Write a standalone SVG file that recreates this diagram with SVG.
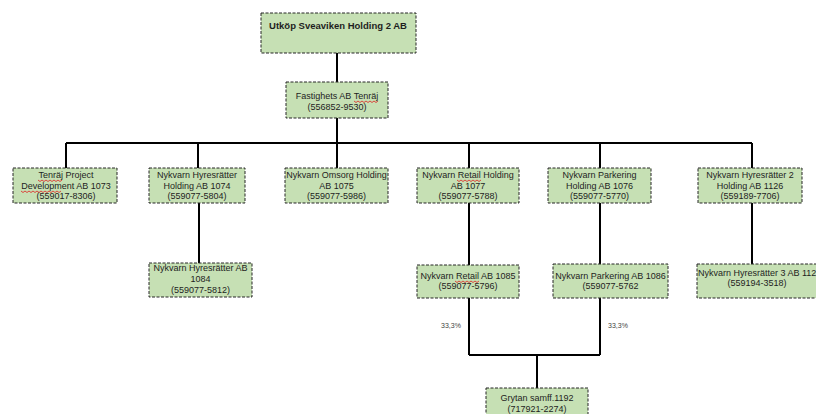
<svg xmlns="http://www.w3.org/2000/svg" width="816" height="414" viewBox="0 0 816 414">
<style>
.box{fill:#c6e0b4;stroke:#262626;stroke-width:1;stroke-dasharray:3,1.5}
.t{font-family:"Liberation Sans",Arial,sans-serif;font-size:9px;fill:#1e1e1e;text-anchor:middle}
.tb{font-family:"Liberation Sans",Arial,sans-serif;font-size:9.5px;font-weight:bold;fill:#1e1e1e;text-anchor:middle}
.pct{font-family:"Liberation Sans",Arial,sans-serif;font-size:7px;fill:#444;text-anchor:middle}
.c{fill:none;stroke:#000;stroke-width:2}
.sq{fill:none;stroke:#e02020;stroke-width:0.8}
</style>
<rect width="816" height="414" fill="#fff"/>
<g id="connectors">
<path class="c" d="M337 53V82M337 118V168M66 143H752M66 143V168M198 143V168M469 143V168M600 143V168M752 143V168"/>
<path class="c" d="M199 203V263M469 203V265M600 203V264M752 203V264"/>
<path class="c" d="M469 298V355M600 298V355M469 355H600M537 355V388"/>
</g>
<g id="n-top">
<rect class="box" x="261" y="13" width="155" height="40"/>
<text class="tb" x="338" y="28.5">Utköp Sveaviken Holding 2 AB</text>
</g>
<g id="n-fastighets">
<rect class="box" x="286" y="82" width="102" height="36"/>
<text class="t" x="337" y="99">Fastighets AB Tenräj</text>
<text class="t" x="337" y="110">(556852-9530)</text>
<path class="sq" d="M354 101l2 1.5 2-1.5 2 1.5 2-1.5 2 1.5 2-1.5 2 1.5 2-1.5 2 1.5 2-1.5 2 1.5 2-1.5"/>
</g>
<g id="n-1073">
<rect class="box" x="13" y="168" width="104" height="35"/>
<text class="t" x="66" y="178">Tenräj Project</text>
<text class="t" x="66" y="189">Development AB 1073</text>
<text class="t" x="66" y="199">(559017-8306)</text>
<path class="sq" d="M38 180l2 1.5 2-1.5 2 1.5 2-1.5 2 1.5 2-1.5 2 1.5 2-1.5 2 1.5 2-1.5 2 1.5 2-1.5"/>
<path class="sq" d="M21 191l2 1.5 2-1.5 2 1.5 2-1.5 2 1.5 2-1.5 2 1.5 2-1.5 2 1.5 2-1.5 2 1.5 2-1.5 2 1.5 2-1.5 2 1.5 2-1.5 2 1.5 2-1.5 2 1.5 2-1.5"/>
</g>
<g id="n-1074">
<rect class="box" x="149" y="168" width="96" height="35"/>
<text class="t" x="197" y="178">Nykvarn Hyresrätter</text>
<text class="t" x="197" y="189">Holding AB 1074</text>
<text class="t" x="197" y="199">(559077-5804)</text>
</g>
<g id="n-1075">
<rect class="box" x="285" y="168" width="103" height="35"/>
<text class="t" x="336.5" y="178">Nykvarn Omsorg Holding</text>
<text class="t" x="336.5" y="189">AB 1075</text>
<text class="t" x="336.5" y="199">(559077-5986)</text>
</g>
<g id="n-1077">
<rect class="box" x="417" y="168" width="102" height="35"/>
<text class="t" x="468" y="178">Nykvarn Retail Holding</text>
<text class="t" x="468" y="189">AB 1077</text>
<text class="t" x="468" y="199">(559077-5788)</text>
<path class="sq" d="M457 180l2 1.5 2-1.5 2 1.5 2-1.5 2 1.5 2-1.5 2 1.5 2-1.5 2 1.5 2-1.5 2 1.5 2-1.5"/>
</g>
<g id="n-1076">
<rect class="box" x="548" y="168" width="103" height="35"/>
<text class="t" x="599.5" y="178">Nykvarn Parkering</text>
<text class="t" x="599.5" y="189">Holding AB 1076</text>
<text class="t" x="599.5" y="199">(559077-5770)</text>
</g>
<g id="n-1126">
<rect class="box" x="698" y="168" width="104" height="35"/>
<text class="t" x="750" y="178">Nykvarn Hyresrätter 2</text>
<text class="t" x="750" y="189">Holding AB 1126</text>
<text class="t" x="750" y="199">(559189-7706)</text>
</g>
<g id="n-1084">
<rect class="box" x="149" y="263" width="103" height="34"/>
<text class="t" x="200.5" y="271">Nykvarn Hyresrätter AB</text>
<text class="t" x="200.5" y="282">1084</text>
<text class="t" x="200.5" y="293">(559077-5812)</text>
</g>
<g id="n-1085">
<rect class="box" x="417" y="265" width="102" height="33"/>
<text class="t" x="468" y="279">Nykvarn Retail AB 1085</text>
<text class="t" x="468" y="289">(559077-5796)</text>
<path class="sq" d="M455 281l2 1.5 2-1.5 2 1.5 2-1.5 2 1.5 2-1.5 2 1.5 2-1.5 2 1.5 2-1.5 2 1.5 2-1.5"/>
</g>
<g id="n-1086">
<rect class="box" x="553" y="264" width="115" height="34"/>
<text class="t" x="610.5" y="279">Nykvarn Parkering AB 1086</text>
<text class="t" x="610.5" y="289">(559077-5762</text>
</g>
<g id="n-1126b">
<rect class="box" x="697" y="264" width="125" height="34"/>
<text class="t" x="698" y="276" style="text-anchor:start">Nykvarn Hyresrätter 3 AB 1126</text>
<text class="t" x="757" y="286">(559194-3518)</text>
</g>
<g id="n-1192">
<rect class="box" x="486" y="388" width="102" height="34"/>
<text class="t" x="537" y="401">Grytan samff.1192</text>
<text class="t" x="537" y="412">(717921-2274)</text>
</g>
<g id="labels">
<text class="pct" x="451" y="327.5">33,3%</text>
<text class="pct" x="618" y="327.5">33,3%</text>
</g>
</svg>
